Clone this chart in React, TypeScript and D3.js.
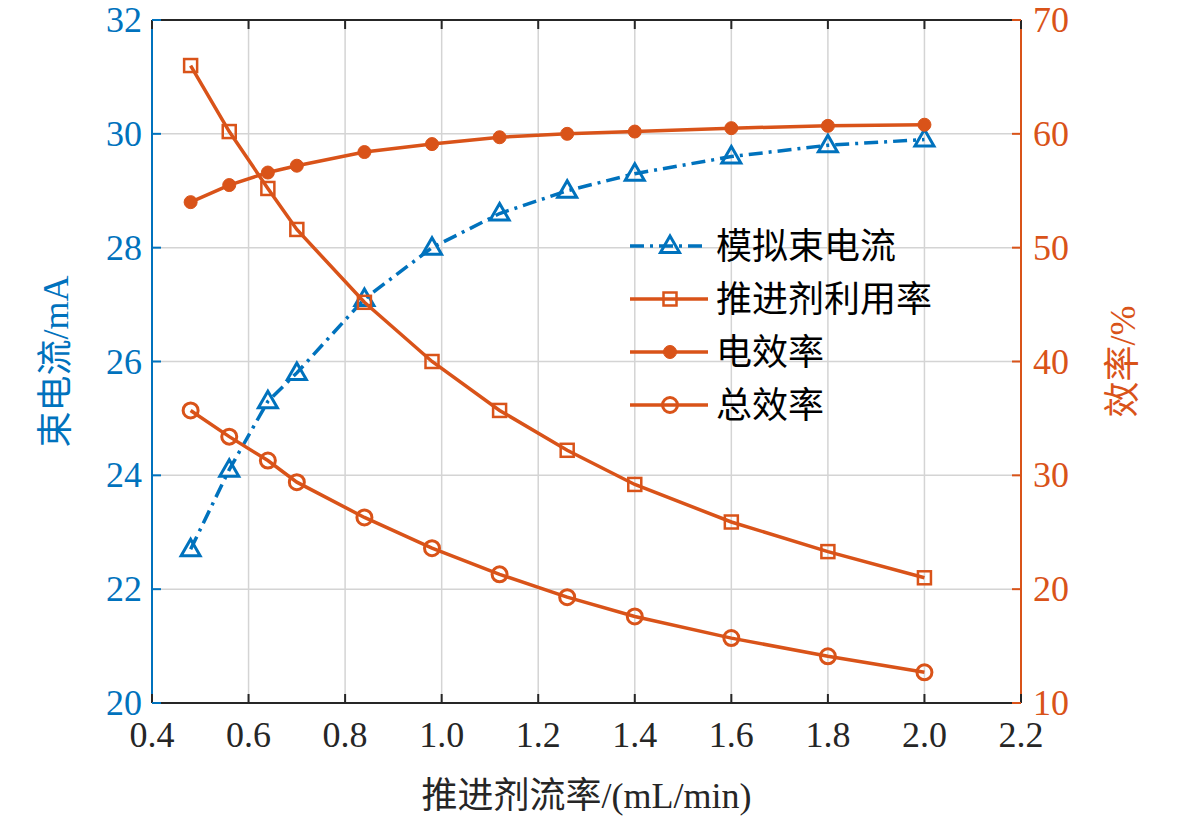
import React from "react";
import * as d3 from "d3";

const flow = [0.48, 0.56, 0.64, 0.70, 0.84, 0.98, 1.12, 1.26, 1.40, 1.60, 1.80, 2.00];
const beamCurrent = [22.7, 24.1, 25.3, 25.8, 27.1, 28.0, 28.6, 29.0, 29.3, 29.6, 29.8, 29.9];
const utilization = [66.0, 60.2, 55.2, 51.6, 45.2, 40.0, 35.7, 32.2, 29.2, 25.9, 23.3, 21.0];
const elecEff = [54.0, 55.5, 56.6, 57.2, 58.4, 59.1, 59.7, 60.0, 60.2, 60.5, 60.7, 60.8];
const totalEff = [35.7, 33.4, 31.3, 29.4, 26.3, 23.6, 21.3, 19.3, 17.6, 15.7, 14.1, 12.7];
const xTicks = [0.4, 0.6, 0.8, 1.0, 1.2, 1.4, 1.6, 1.8, 2.0, 2.2];
const yLTicks = [20, 22, 24, 26, 28, 30, 32];
const yRTicks = [10, 20, 30, 40, 50, 60, 70];
const legendNames = ["模拟束电流", "推进剂利用率", "电效率", "总效率"];

const BLUE = "#0072BD";
const ORANGE = "#D95319";
const FONT = "'Liberation Serif', 'Noto Sans CJK SC', serif";

export default function App() {
  const L = 152, R = 1021, T = 20, B = 703;
  const x = d3.scaleLinear().domain([0.4, 2.2]).range([L, R]);
  const yl = d3.scaleLinear().domain([20, 32]).range([B, T]);
  const yr = d3.scaleLinear().domain([10, 70]).range([B, T]);
  const lineL = d3.line<number>().x((_, i) => x(flow[i])).y((d) => yl(d));
  const lineR = d3.line<number>().x((_, i) => x(flow[i])).y((d) => yr(d));
  const tri = (cx: number, cy: number) => `M${cx},${cy - 10}L${cx + 9.5},${cy + 6.5}L${cx - 9.5},${cy + 6.5}Z`;

  const marker = (k: number, cx: number, cy: number, key: any) => {
    if (k === 0) return <path key={key} d={tri(cx, cy)} fill="none" stroke={BLUE} strokeWidth={3} />;
    if (k === 1) return <rect key={key} x={cx - 6.5} y={cy - 6.5} width={13} height={13} fill="none" stroke={ORANGE} strokeWidth={2.5} />;
    if (k === 2) return <circle key={key} cx={cx} cy={cy} r={6.5} fill={ORANGE} stroke={ORANGE} />;
    return <circle key={key} cx={cx} cy={cy} r={7.5} fill="none" stroke={ORANGE} strokeWidth={3} />;
  };

  const series = [
    { d: beamCurrent, line: lineL, y: yl, color: BLUE, dash: "14,6,3,6" },
    { d: utilization, line: lineR, y: yr, color: ORANGE, dash: "" },
    { d: elecEff, line: lineR, y: yr, color: ORANGE, dash: "" },
    { d: totalEff, line: lineR, y: yr, color: ORANGE, dash: "" },
  ];

  return (
    <svg width={1181} height={825} style={{ position: "absolute", left: 0, top: 0, background: "#fff" }} fontFamily={FONT}>
      {xTicks.map((t) => <line key={"gx" + t} x1={x(t)} x2={x(t)} y1={T} y2={B} stroke="#d4d4d4" strokeWidth={1.5} />)}
      {yLTicks.map((t) => <line key={"gy" + t} x1={L} x2={R} y1={yl(t)} y2={yl(t)} stroke="#d4d4d4" strokeWidth={1.5} />)}
      <line x1={L} x2={R} y1={T} y2={T} stroke="#262626" strokeWidth={2} />
      <line x1={L} x2={R} y1={B} y2={B} stroke="#262626" strokeWidth={2} />
      <line x1={L} x2={L} y1={T} y2={B} stroke={BLUE} strokeWidth={2} />
      <line x1={R} x2={R} y1={T} y2={B} stroke={ORANGE} strokeWidth={2} />
      {xTicks.map((t) => (
        <g key={"tx" + t}>
          <line x1={x(t)} x2={x(t)} y1={B} y2={B - 9} stroke="#262626" strokeWidth={2} />
          <line x1={x(t)} x2={x(t)} y1={T} y2={T + 9} stroke="#262626" strokeWidth={2} />
          <text x={x(t)} y={B + 44} fontSize={36} textAnchor="middle" fill="#262626">{t.toFixed(1)}</text>
        </g>
      ))}
      {yLTicks.map((t) => (
        <g key={"tl" + t}>
          <line x1={L} x2={L + 9} y1={yl(t)} y2={yl(t)} stroke={BLUE} strokeWidth={2} />
          <text x={L - 10} y={yl(t) + 12} fontSize={36} textAnchor="end" fill={BLUE}>{t}</text>
        </g>
      ))}
      {yRTicks.map((t) => (
        <g key={"tr" + t}>
          <line x1={R} x2={R - 9} y1={yr(t)} y2={yr(t)} stroke={ORANGE} strokeWidth={2} />
          <text x={R + 12} y={yr(t) + 12} fontSize={36} textAnchor="start" fill={ORANGE}>{t}</text>
        </g>
      ))}
      <text transform={`translate(68,${(T + B) / 2}) rotate(-90)`} fontSize={36} textAnchor="middle" fill={BLUE}>束电流/mA</text>
      <text transform={`translate(1135,${(T + B) / 2}) rotate(-90)`} fontSize={36} textAnchor="middle" fill={ORANGE}>效率/%</text>
      <text x={(L + R) / 2} y={808} fontSize={36} textAnchor="middle" fill="#262626">推进剂流率/(mL/min)</text>
      {series.map((s, k) => (
        <g key={"s" + k}>
          <path d={s.line(s.d) || ""} fill="none" stroke={s.color} strokeWidth={3.5} strokeDasharray={s.dash} />
          {s.d.map((v, i) => marker(k, x(flow[i]), s.y(v), i))}
        </g>
      ))}
      {legendNames.map((n, k) => {
        const yy = 246 + k * 53;
        const c = k === 0 ? BLUE : ORANGE;
        return (
          <g key={"lg" + k}>
            <line x1={630} x2={708} y1={yy} y2={yy} stroke={c} strokeWidth={3.5} strokeDasharray={k === 0 ? "14,6,3,6" : ""} />
            {marker(k, 670, yy, "m")}
            <text x={716} y={yy + 13} fontSize={36} fill="#000">{n}</text>
          </g>
        );
      })}
    </svg>
  );
}
